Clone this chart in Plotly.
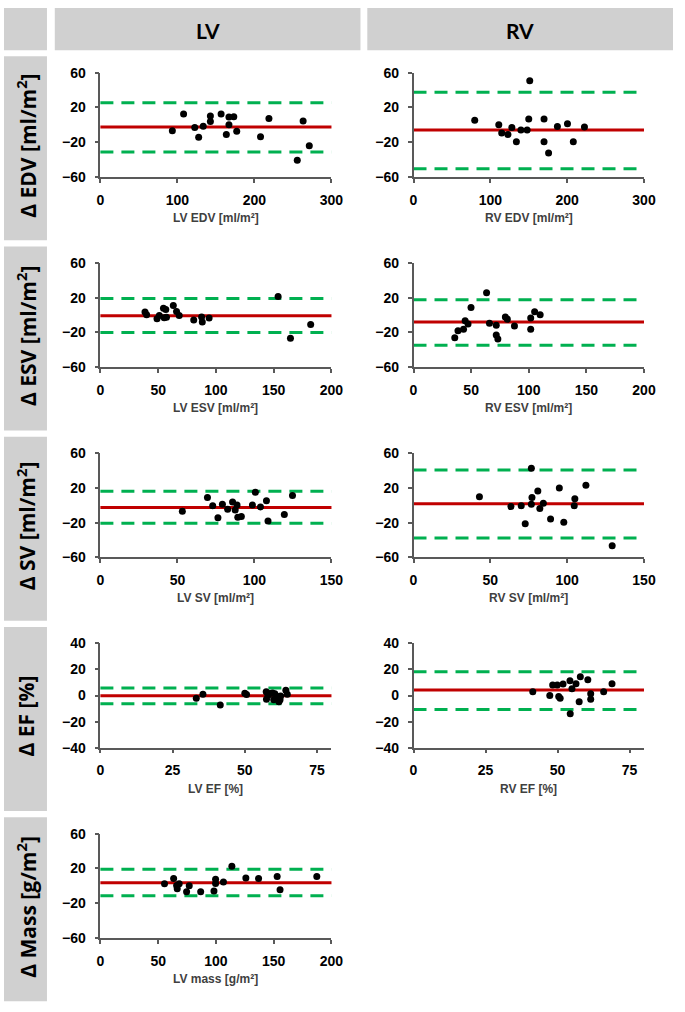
import plotly.graph_objects as go

# ---------------- data ----------------
lv_edv_mean = [93.4, 108, 122.5, 127.6, 133.5, 142.8, 142.8, 156.7, 166.9, 173.2, 166.9, 163.5, 177, 207.9, 218.8, 263.2, 271.2, 255.6]
lv_edv_diff = [-6.8, 12.5, -3, -14.3, -1.5, 10.2, 3.8, 12.5, 9, 9.4, 0, -11, -7.5, -13.6, 7.2, 4.5, -24.2, -40.8]
lv_edv_lines = [-2.6, 25.3, -31.3]

rv_edv_mean = [79.7, 111, 114.8, 122.9, 128, 133.9, 139.8, 147.9, 150, 151.3, 169.9, 169.9, 175.8, 187.3, 200.4, 208, 222.5]
rv_edv_diff = [5.3, 0, -9.4, -11, -3, -19.6, -6, -6, 6.8, 50.6, 6.8, -19.6, -32.5, -1.9, 1.1, -19.6, -2.6]
rv_edv_lines = [-6, 37.4, -50.6]

lv_esv_mean = [38.6, 40, 49, 51, 54.6, 56.6, 55.2, 57.2, 63.1, 65.9, 68.2, 80.8, 87.6, 88.2, 94.1, 153.8, 164.5, 182]
lv_esv_diff = [3.4, 0.4, -4.2, -0.4, 7.9, 6.4, -3, -2.6, 10.9, 4.2, -0.4, -5.7, -2.3, -7.9, -3.4, 21.5, -26.8, -10.9]
lv_esv_lines = [-0.75, 19.2, -20]

rv_esv_mean = [35.8, 38.6, 43.4, 44.8, 47.3, 49.9, 63.4, 65.9, 71.8, 71.8, 73.2, 79.7, 81.4, 87.6, 101.7, 101.7, 105.1, 109.9]
rv_esv_diff = [-26, -18.1, -16.2, -6.4, -10.2, 8.7, 25.7, -9.4, -11.7, -23, -27.5, -2.3, -4.9, -12.5, -3.4, -16.2, 3.8, 0.4]
rv_esv_lines = [-7.9, 17.7, -34.7]

lv_sv_mean = [53.2, 69.5, 72.9, 76.3, 79.2, 82.6, 85.8, 87.5, 88.7, 89.2, 91.5, 98.7, 100.6, 103.9, 107.8, 108.8, 119.4, 124.7]
lv_sv_diff = [-6.8, 9.1, -0.4, -14.3, 1.1, -4.5, 3.8, -5.3, 0.4, -13.6, -12.8, 0.4, 15.1, -1.9, 5.3, -18.1, -10.6, 11.3]
lv_sv_lines = [-2.6, 16.2, -20.75]

rv_sv_mean = [42.9, 63.4, 70.1, 72.7, 76.7, 77.1, 76.7, 80.9, 82.2, 84.5, 89.2, 94.9, 97.8, 104.6, 105, 112.2, 129.3]
rv_sv_diff = [9.8, -1.5, -0.4, -21.1, 42.6, 9.1, 1.1, 16.6, -3.8, 2.3, -15.8, 20, -19.6, -0.4, 7.5, 23, -46.4]
rv_sv_lines = [1.9, 40.75, -37.7]

lv_ef_mean = [33.2, 35.5, 41.5, 50, 50.6, 57.4, 57.5, 58, 58.7, 59.6, 60, 60.4, 61.3, 61.8, 62.2, 62.4, 64.2, 64.7]
lv_ef_diff = [-2, 1, -7.3, 1.8, 0.8, 3, -2.8, 0, 1.5, 2, -3.3, 1.3, -0.8, -4.8, -3.3, -0.3, 4, 1]
lv_ef_lines = [-0.2, 5.8, -6.3]

rv_ef_mean = [41.4, 47.3, 48.3, 49.9, 50.4, 50.9, 51.9, 54.3, 54.4, 55, 56.4, 57.5, 57.9, 60.5, 61.5, 61.5, 66, 68.9]
rv_ef_diff = [3, 0, 8.1, 8.1, -0.8, -2, 8.9, 11.4, -13.9, 5.3, 9.1, -4.8, 14.4, 12.2, 1.3, -2.8, 3, 9.1]
rv_ef_lines = [4.3, 18.2, -10.6]

lv_mass_mean = [55.5, 63.4, 66, 66.5, 68.2, 74.6, 76.9, 86.8, 98.3, 99.7, 99.7, 106.5, 113.8, 125.9, 136.9, 153, 155.5, 187.3]
lv_mass_diff = [2.3, 8.3, 0.4, -3.4, 2.3, -6.8, 0, -6.8, -6, 7.5, 2.6, 4.5, 22.6, 9.1, 8.3, 10.6, -4.5, 10.6]
lv_mass_lines = [3.4, 18.9, -11.3]

column_titles = ["LV", "RV"]
row_titles = ["Δ EDV [ml/m<sup>2</sup>]", "Δ ESV [ml/m<sup>2</sup>]", "Δ SV [ml/m<sup>2</sup>]",
              "Δ EF [%]", "Δ Mass [g/m<sup>2</sup>]"]
x_titles = ["LV EDV [ml/m²]", "RV EDV [ml/m²]", "LV ESV [ml/m²]", "RV ESV [ml/m²]",
            "LV SV [ml/m²]", "RV SV [ml/m²]", "LV EF [%]", "RV EF [%]", "LV mass [g/m²]"]
x_ranges = [[0, 300], [0, 300], [0, 200], [0, 200], [0, 150], [0, 150], [0, 80], [0, 80], [0, 200]]
x_ticks = [[0, 100, 200, 300], [0, 100, 200, 300], [0, 50, 100, 150, 200], [0, 50, 100, 150, 200],
           [0, 50, 100, 150], [0, 50, 100, 150], [0, 25, 50, 75], [0, 25, 50, 75], [0, 50, 100, 150, 200]]
y_ranges = [[-60, 60]] * 6 + [[-40, 40], [-40, 40], [-60, 60]]
y_ticks = [[-60, -20, 20, 60]] * 6 + [[-40, -20, 0, 20, 40], [-40, -20, 0, 20, 40], [-60, -20, 20, 60]]

means = [lv_edv_mean, rv_edv_mean, lv_esv_mean, rv_esv_mean, lv_sv_mean, rv_sv_mean,
         lv_ef_mean, rv_ef_mean, lv_mass_mean]
diffs = [lv_edv_diff, rv_edv_diff, lv_esv_diff, rv_esv_diff, lv_sv_diff, rv_sv_diff,
         lv_ef_diff, rv_ef_diff, lv_mass_diff]
lines = [lv_edv_lines, rv_edv_lines, lv_esv_lines, rv_esv_lines, lv_sv_lines, rv_sv_lines,
         lv_ef_lines, rv_ef_lines, lv_mass_lines]

# ---------------- layout geometry (pixels) ----------------
W, H = 685, 1012
def fx(p): return p / W
def fy(p): return 1 - p / H

col_x = [(98.7, 335.3), (419.3, 655.3)]
row_top0, row_pitch, plot_h = 65.7, 193.3, 106
box_top0, box_h = 49, 187

RED = "#C00000"
GREEN = "#00B050"
GRAY = "#D0D0D0"
AXIS = "#595959"

fig = go.Figure()
layout = dict(width=W, height=H, margin=dict(l=0, r=0, t=0, b=0),
              paper_bgcolor="white", plot_bgcolor="white", showlegend=False)
shapes, annotations = [], []

tickfont = dict(family="Liberation Sans, Arial", size=14, color="black", weight="bold")

for i in range(9):
    r, c = divmod(i, 2)
    n = i + 1
    xa = "x" if n == 1 else f"x{n}"
    ya = "y" if n == 1 else f"y{n}"
    top = row_top0 + r * row_pitch
    bot = top + plot_h
    fig.add_trace(go.Scatter(x=means[i], y=diffs[i], mode="markers", xaxis=xa, yaxis=ya,
                             marker=dict(color="black", size=7, line=dict(width=0)),
                             hoverinfo="x+y"))
    layout["xaxis" + ("" if n == 1 else str(n))] = dict(
        domain=[fx(col_x[c][0]), fx(col_x[c][1])], anchor=ya, range=x_ranges[i],
        tickvals=x_ticks[i], showgrid=False, zeroline=False, showline=True,
        linecolor=AXIS, linewidth=1.5, ticks="outside", ticklen=4, tickcolor=AXIS,
        tickwidth=1.5, tickfont=tickfont, ticklabelstandoff=5, fixedrange=True)
    layout["yaxis" + ("" if n == 1 else str(n))] = dict(
        domain=[fy(bot), fy(top)], anchor=xa, range=y_ranges[i],
        tickvals=y_ticks[i], showgrid=False, zeroline=False, showline=True,
        linecolor=AXIS, linewidth=1.5, ticks="outside", ticklen=4, tickcolor=AXIS,
        tickwidth=1.5, tickfont=tickfont, ticklabelstandoff=6, fixedrange=True)
    bias, upper, lower = lines[i]
    for val, col, dash in [(upper, GREEN, "13px,8px"), (lower, GREEN, "13px,8px"), (bias, RED, "solid")]:
        shapes.append(dict(type="line", xref=f"{xa} domain", yref=ya, x0=0, x1=1, y0=val, y1=val,
                           line=dict(color=col, width=3, dash=dash), layer="below"))
    annotations.append(dict(text=x_titles[i], xref=f"{xa} domain", yref=f"{ya} domain",
                            x=0.5, y=0, yshift=-41, showarrow=False, xanchor="center", yanchor="middle",
                            font=dict(family="Liberation Sans, Arial", size=12, color="#404040", weight="bold")))

# header boxes
shapes.append(dict(type="rect", xref="paper", yref="paper", x0=fx(0), x1=fx(44), y0=fy(43), y1=fy(0),
                   fillcolor=GRAY, line=dict(width=0), layer="below"))
for c, (x0, x1) in enumerate([(52, 365), (372, 685)]):
    shapes.append(dict(type="rect", xref="paper", yref="paper", x0=fx(x0), x1=fx(x1), y0=fy(43), y1=fy(0),
                       fillcolor=GRAY, line=dict(width=0), layer="below"))
    annotations.append(dict(text=column_titles[c], xref="paper", yref="paper", x=fx((x0 + x1) / 2),
                            y=fy(23), showarrow=False, xanchor="center", yanchor="middle",
                            font=dict(family="Lato", size=21, color="black", weight="bold")))

# row label boxes
for r in range(5):
    t = box_top0 + r * row_pitch
    b = t + box_h
    shapes.append(dict(type="rect", xref="paper", yref="paper", x0=fx(0), x1=fx(44), y0=fy(b), y1=fy(t),
                       fillcolor=GRAY, line=dict(width=0), layer="below"))
    annotations.append(dict(text=row_titles[r], xref="paper", yref="paper", x=fx(23), y=fy((t + b) / 2 - 3),
                            showarrow=False, textangle=-90, xanchor="center", yanchor="middle",
                            font=dict(family="Open Sans", size=21, color="black", weight="bold")))

layout["shapes"] = shapes
layout["annotations"] = annotations
fig.update_layout(**layout)
fig.write_html(
    "out.html",
    config={"displayModeBar": False, "staticPlot": False},
    post_script=("document.documentElement.style.margin='0';"
                 "document.body.style.margin='0';document.body.style.padding='0';"
                 "document.body.style.overflow='hidden';"
                 "var gd=document.getElementById('{plot_id}');"
                 "gd.style.position='absolute';gd.style.left='0px';gd.style.top='0px';"),
)
